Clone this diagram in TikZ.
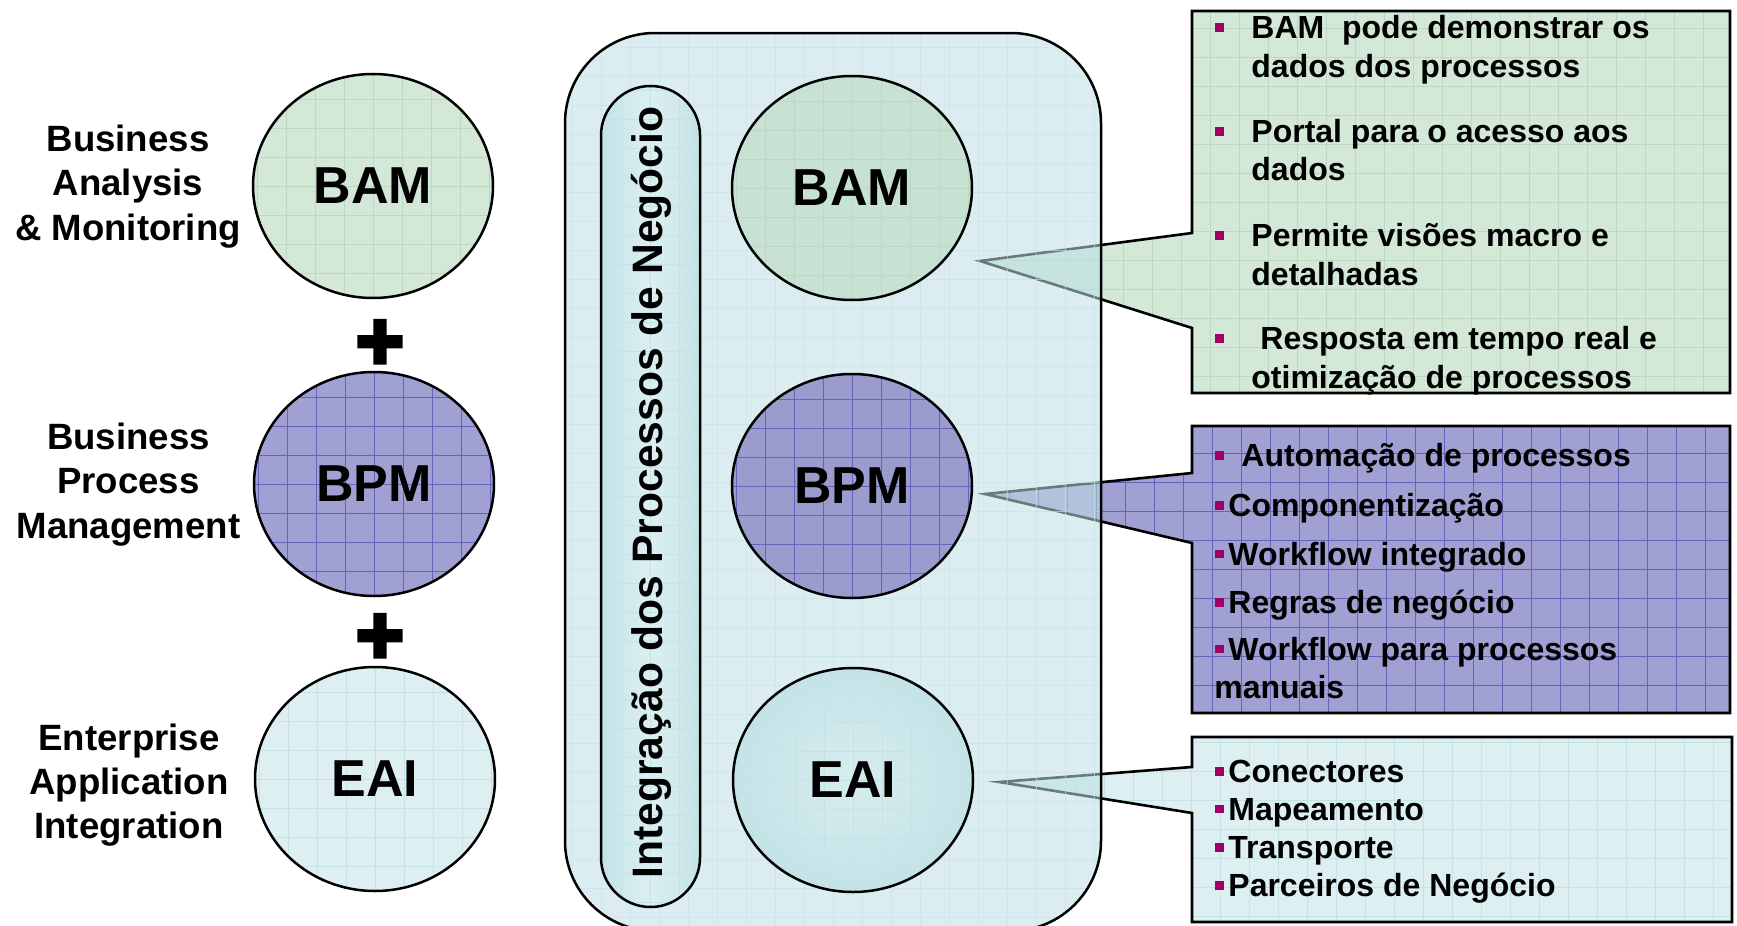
\documentclass[tikz,border=0pt]{standalone}
\usepackage{fontspec}
\setmainfont{Liberation Sans}
\newfontfamily\plusfont{Liberation Sans}[BoldFeatures={FakeBold=5}]
\usetikzlibrary{shapes.geometric}

\definecolor{bamFill}{RGB}{212,232,215}
\definecolor{bamGrid}{RGB}{188,216,194}
\definecolor{bamMid}{RGB}{199,226,211}
\definecolor{bpmFill}{RGB}{160,160,210}
\definecolor{bpmGrid}{RGB}{100,100,186}
\definecolor{bpmMid}{RGB}{154,156,206}
\definecolor{eaiFill}{RGB}{221,239,241}
\definecolor{eaiGrid}{RGB}{196,227,231}
\definecolor{eaiInner}{RGB}{215,237,239}
\definecolor{eaiOuter}{RGB}{196,227,231}
\definecolor{frameTint}{RGB}{190,224,228}
\definecolor{pillEdge}{RGB}{196,227,231}
\definecolor{pillMid}{RGB}{220,239,241}
\definecolor{bulletRed}{RGB}{160,0,100}

\tikzset{
  % fine grid texture laid inside any filled shape
  texture/.style={path picture={
    \foreach \g in {-464,-435,...,464}{
      \draw[#1, line width=0.5pt] ([xshift=\g*0.5pt, yshift=-240pt]path picture bounding box.center) -- ++(0pt,480pt);
      \draw[#1, line width=0.5pt] ([yshift=\g*0.5pt, xshift=-240pt]path picture bounding box.center) -- ++(480pt,0pt);
    }}},
  disc/.style={ellipse, draw=black, line width=1.25pt, minimum width=120pt,
    minimum height=112pt, inner sep=0pt, font=\fontsize{26}{30}\selectfont\bfseries},
  sidelabel/.style={anchor=base, inner sep=0pt, font=\fontsize{18.3}{22}\selectfont\bfseries},
  plussign/.style={inner sep=0pt, font=\fontsize{41}{46}\selectfont\plusfont\bfseries},
  notebox/.style={fill=#1, draw=black, line width=1.3pt},
  notetext/.style={anchor=base west, inner sep=0pt, font=\fontsize{16}{19}\selectfont\bfseries},
  bulletmark/.style={fill=bulletRed, minimum size=4.25pt, inner sep=0pt},
  outerbox/.style={draw=black, line width=1.25pt, rounded corners=45pt,
    minimum width=268pt, minimum height=449pt, inner sep=0pt},
  pill/.style={draw=black, line width=1.25pt, rounded corners=24.75pt,
    minimum width=49.5pt, minimum height=410.5pt, inner sep=0pt},
}

\begin{document}
\begin{tikzpicture}[x=0.5pt, y=-0.5pt, line join=miter]
\useasboundingbox (0,0) rectangle (1737,926);
\fill[white] (0,0) rectangle (1737,926);

% ---------- left column: the three building blocks ----------
\node[disc, fill=bamFill, texture=bamGrid] (bamL) at (373,186) {BAM};
\node[disc, fill=bpmFill, texture=bpmGrid] (bpmL) at (374,484) {BPM};
\node[disc, fill=eaiFill, texture=eaiGrid] (eaiL) at (375,779) {EAI};

\node[plussign] (plusA) at (380,345) {+};
\node[plussign] (plusB) at (380,639) {+};

\node[sidelabel] (bamLa) at (128,151) {Business};
\node[sidelabel] (bamLb) at (128,195.5) {Analysis};
\node[sidelabel] (bamLc) at (128,240) {\& Monitoring};

\node[sidelabel] (bpmLa) at (128.5,449) {Business};
\node[sidelabel] (bpmLb) at (128.5,493) {Process};
\node[sidelabel] (bpmLc) at (128.5,538) {Management};

\node[sidelabel] (eaiLa) at (129,750) {Enterprise};
\node[sidelabel] (eaiLb) at (129,794) {Application};
\node[sidelabel] (eaiLc) at (129,838) {Integration};

% ---------- callouts on the right ----------
\coordinate (bamTip) at (980,261);
\coordinate (bpmTip) at (985,494);
\coordinate (eaiTip) at (999,782);

\path[notebox=bamFill, texture=bamGrid] (1192,11) -- (1730,11) -- (1730,393)
  -- (1192,393) -- (1192,328) -- (bamTip) -- (1192,233) -- cycle;
\path[notebox=bpmFill, texture=bpmGrid] (1192,426) -- (1730,426) -- (1730,713)
  -- (1192,713) -- (1192,543) -- (bpmTip) -- (1192,473) -- cycle;
\path[notebox=eaiFill, texture=eaiGrid] (1192,737) -- (1732,737) -- (1732,922)
  -- (1192,922) -- (1192,813) -- (eaiTip) -- (1192,767) -- cycle;

% ---------- translucent integration frame ----------
\node[outerbox, fill=frameTint, fill opacity=0.55,
  texture={eaiGrid, draw opacity=0.6}] (outer) at (833,482) {};

\node[pill, left color=pillEdge, right color=pillEdge, middle color=pillMid,
  texture=eaiGrid] (pill) at (650.5,496.5) {};
\node[rotate=90, inner sep=0pt, font=\fontsize{21.3}{25}\selectfont\bfseries]
  (pillText) at (651.5,492.5) {Integração dos Processos de Negócio};

\node[disc, fill=bamMid, texture=bamGrid] (bamM) at (852,188) {BAM};
\node[disc, fill=bpmMid, texture=bpmGrid] (bpmM) at (852,486) {BPM};
\node[disc, inner color=eaiInner, outer color=eaiOuter, texture=eaiGrid] (eaiM) at (853,780) {EAI};

% ---------- callout texts ----------
\node[bulletmark] (bamB1) at (1219.5,27.3) {};
\node[notetext] (bamT1) at (1251,38.3) {BAM\ \ pode demonstrar os};
\node[notetext] (bamT2) at (1251,77.3) {dados dos processos};
\node[bulletmark] (bamB2) at (1219.5,131.7) {};
\node[notetext] (bamT3) at (1251,142.7) {Portal para o acesso aos};
\node[notetext] (bamT4) at (1251,180.7) {dados};
\node[bulletmark] (bamB3) at (1219.5,235.7) {};
\node[notetext] (bamT5) at (1251,246.7) {Permite visões macro e};
\node[notetext] (bamT6) at (1251,285) {detalhadas};
\node[bulletmark] (bamB4) at (1219.5,338.3) {};
\node[notetext] (bamT7) at (1260,349.3) {Resposta em tempo real e};
\node[notetext] (bamT8) at (1251,388.3) {otimização de processos};

\node[bulletmark] (bpmB1) at (1219.5,455.7) {};
\node[notetext] (bpmT1) at (1241,466.7) {Automação de processos};
\node[bulletmark] (bpmB2) at (1219.5,505.7) {};
\node[notetext] (bpmT2) at (1228,516.7) {Componentização};
\node[bulletmark] (bpmB3) at (1219.5,554) {};
\node[notetext] (bpmT3) at (1228,565) {Workflow integrado};
\node[bulletmark] (bpmB4) at (1219.5,602.3) {};
\node[notetext] (bpmT4) at (1228,613.3) {Regras de negócio};
\node[bulletmark] (bpmB5) at (1219.5,649) {};
\node[notetext] (bpmT5) at (1228,660) {Workflow para processos};
\node[notetext] (bpmT6) at (1214,698.3) {manuais};

\node[bulletmark] (eaiB1) at (1219.5,771.7) {};
\node[notetext] (eaiT1) at (1228,782.7) {Conectores};
\node[bulletmark] (eaiB2) at (1219.5,809) {};
\node[notetext] (eaiT2) at (1228,820) {Mapeamento};
\node[bulletmark] (eaiB3) at (1219.5,847.3) {};
\node[notetext] (eaiT3) at (1228,858.3) {Transporte};
\node[bulletmark] (eaiB4) at (1219.5,885.7) {};
\node[notetext] (eaiT4) at (1228,896.7) {Parceiros de Negócio};
\end{tikzpicture}
\end{document}
